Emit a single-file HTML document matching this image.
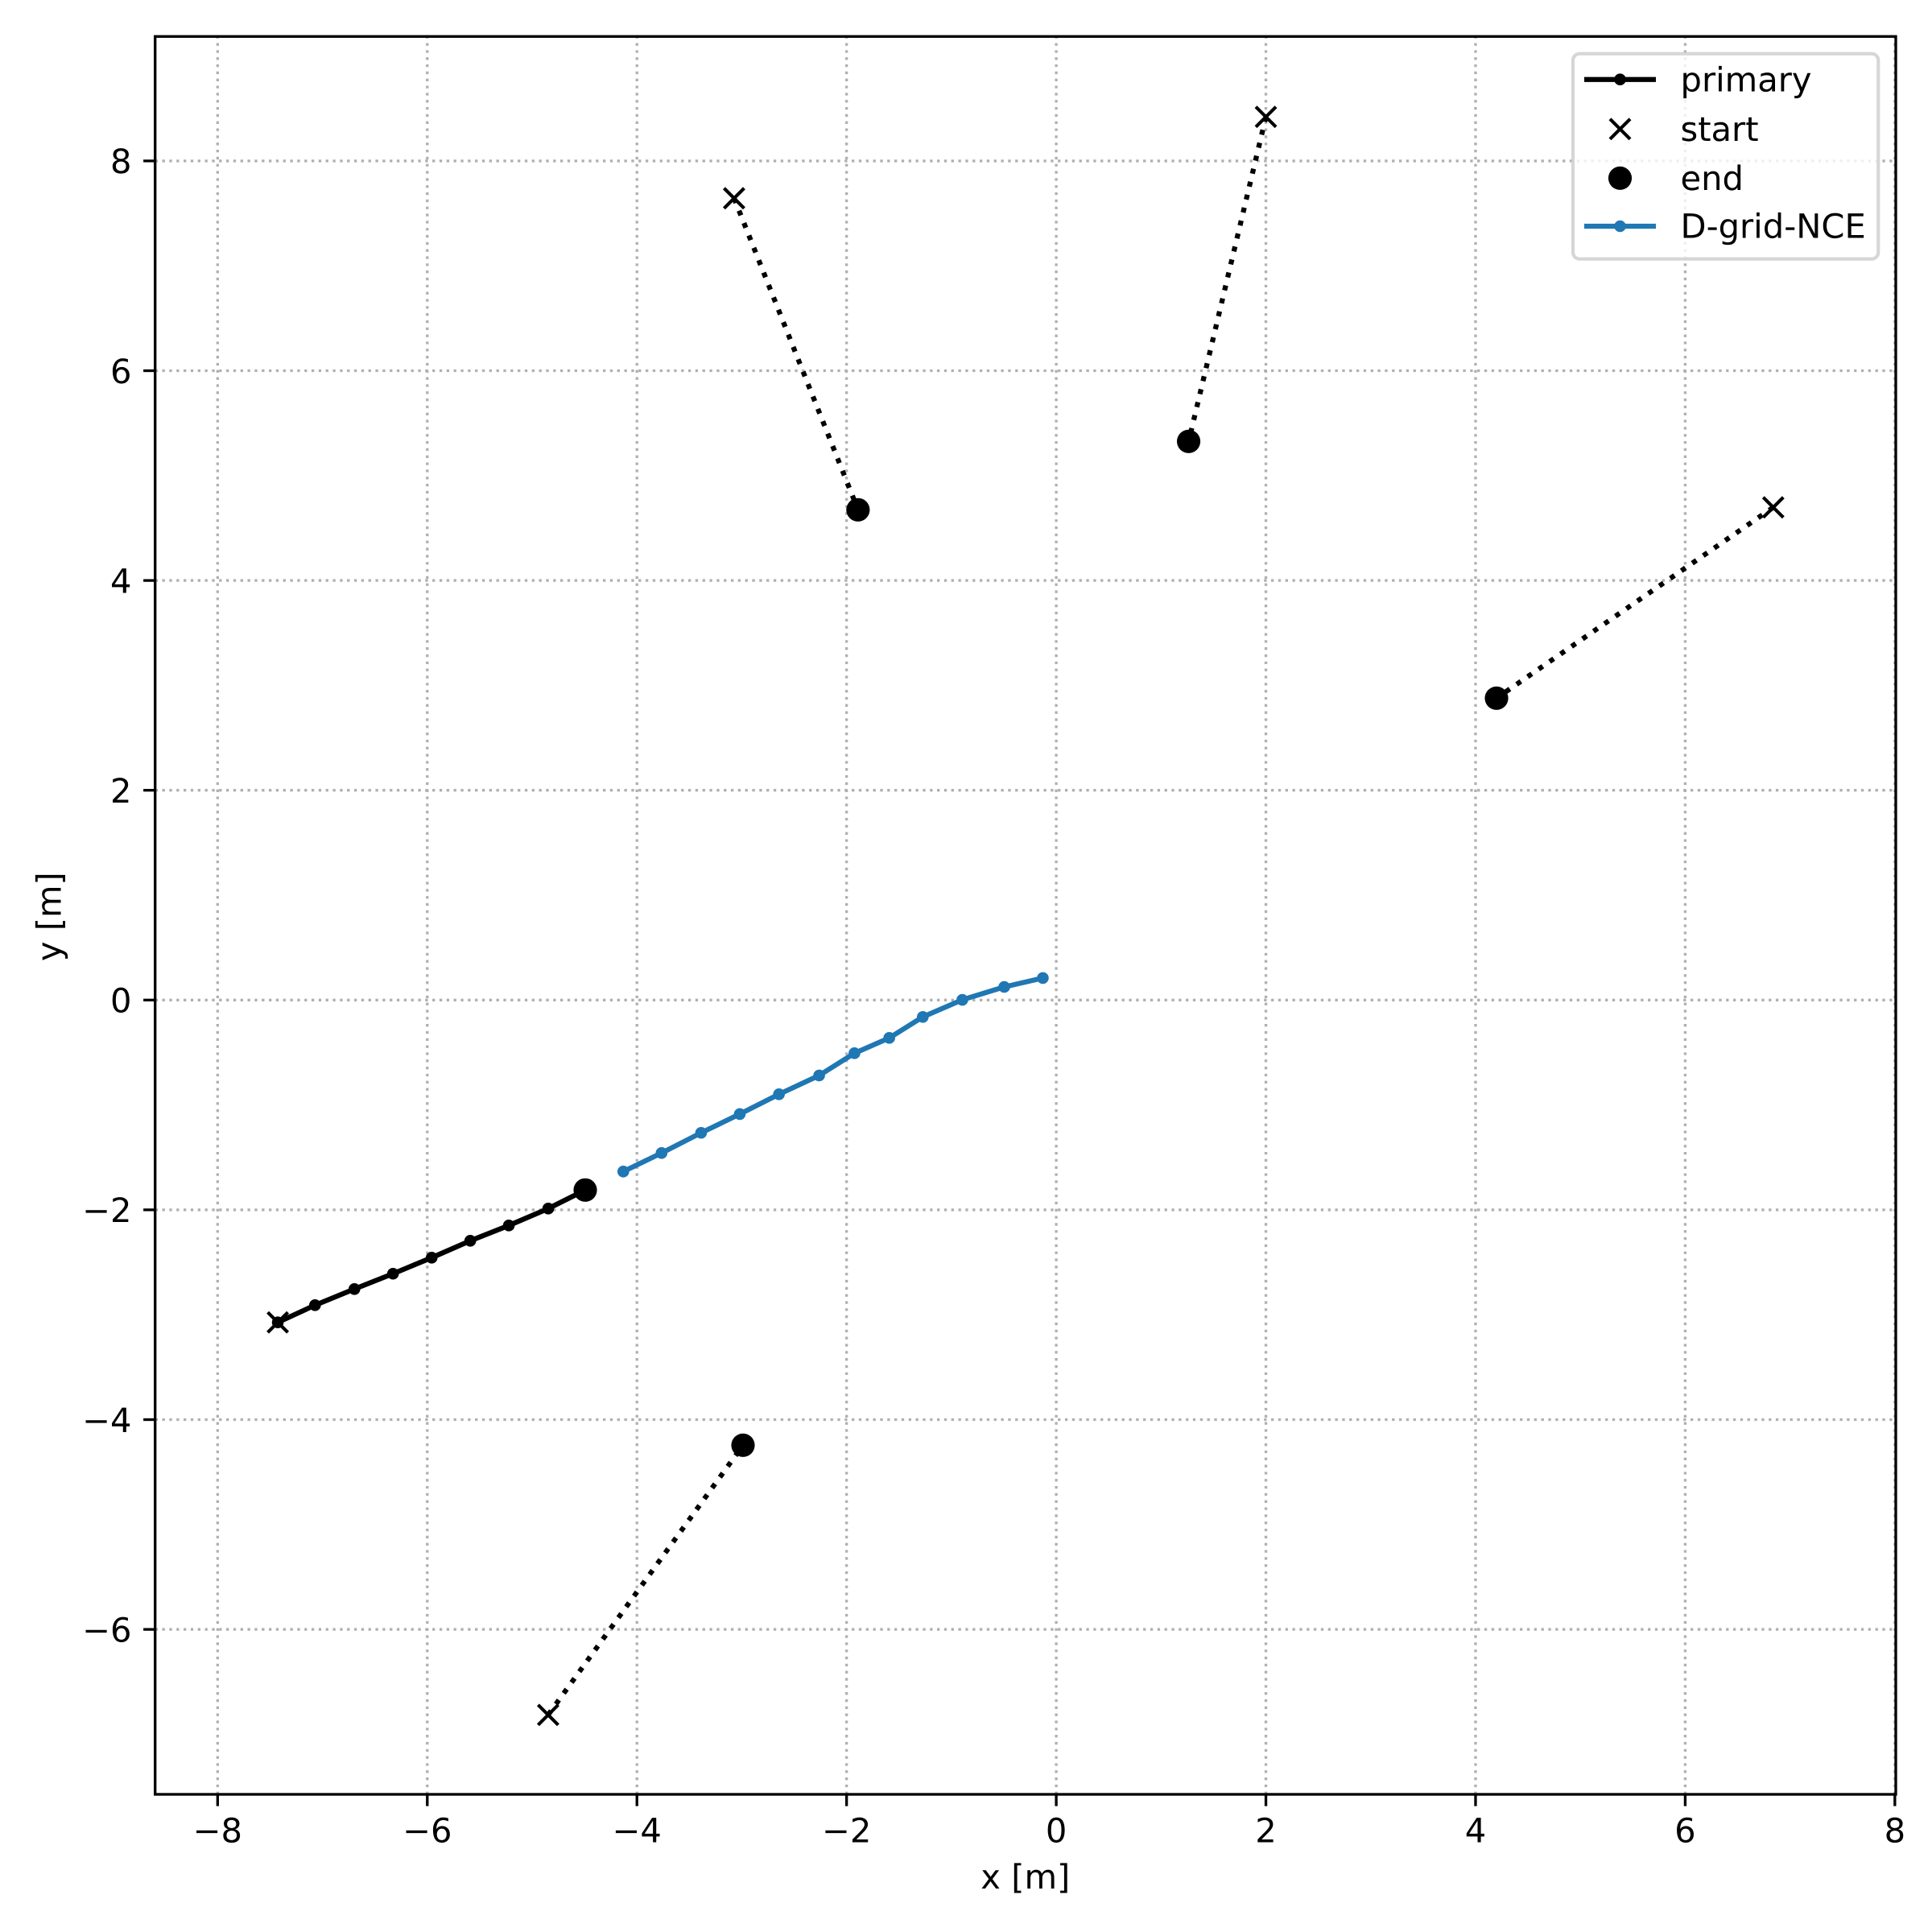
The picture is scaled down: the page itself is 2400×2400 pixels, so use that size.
<!DOCTYPE html>
<html>
<head>
<meta charset="utf-8">
<title>Trajectory plot</title>
<style>
html,body{margin:0;padding:0;background:#fff;}
svg{display:block;}
text{font-family:"DejaVu Sans","Liberation Sans",sans-serif;font-size:41.67px;fill:#000;text-rendering:geometricPrecision;}
</style>
</head>
<body>
<svg id="chart" xmlns="http://www.w3.org/2000/svg" width="2400" height="2400" viewBox="0 0 2400 2400">
  <rect x="0" y="0" width="2400" height="2400" fill="#ffffff"/>
  <g id="grid"></g>
  <g id="series"></g>
  <g id="spines">
    <rect x="192.7" y="45.3" width="2162.3" height="2183.7" fill="none" stroke="#000" stroke-width="3.33" stroke-linejoin="miter"/>
  </g>
  <g id="ticks"></g>
  <text x="1273.8" y="2346" text-anchor="middle">x [m]</text>
  <text x="0" y="0" text-anchor="middle" transform="translate(75.5 1138.7) rotate(-90)">y [m]</text>
  <g id="legend">
    <rect x="1954" y="66.7" width="379.3" height="255" rx="8.3" ry="8.3" fill="#ffffff" fill-opacity="0.8" stroke="#cccccc" stroke-opacity="0.8" stroke-width="4.17"/>
    <g>
      <line x1="1968" y1="98.7" x2="2057" y2="98.7" stroke="#000" stroke-width="6.25"/>
      <circle cx="2012.5" cy="98.7" r="7.3" fill="#000"/>
      <text x="2087.5" y="113.3">primary</text>
    </g>
    <g>
      <path d="M2000 147.8L2025 172.8M2000 172.8L2025 147.8" stroke="#000" stroke-width="4.17" fill="none"/>
      <text x="2087.5" y="175">start</text>
    </g>
    <g>
      <circle cx="2012.5" cy="221.3" r="14.58" fill="#000"/>
      <text x="2087.5" y="236">end</text>
    </g>
    <g>
      <line x1="1968" y1="281" x2="2057" y2="281" stroke="#1f77b4" stroke-width="6.25"/>
      <circle cx="2012.5" cy="281" r="7.3" fill="#1f77b4"/>
      <text x="2087.5" y="295.7">D-grid-NCE</text>
    </g>
  </g>
</svg>
<script>
const xTickValues = [-8, -6, -4, -2, 0, 2, 4, 6, 8];
const yTickValues = [-6, -4, -2, 0, 2, 4, 6, 8];

const primaryX = [-7.426, -7.071, -6.695, -6.327, -5.958, -5.590, -5.222, -4.846, -4.493];
const primaryY = [-3.073, -2.909, -2.755, -2.609, -2.456, -2.295, -2.149, -1.988, -1.811];

const dGridX = [-4.130, -3.765, -3.388, -3.019, -2.645, -2.262, -1.925, -1.593, -1.273, -0.896, -0.496, -0.128];
const dGridY = [-1.635, -1.458, -1.266, -1.087, -0.898, -0.719, -0.507, -0.361, -0.161, 0.002, 0.125, 0.210];

const neighbourAX = [-3.073, -1.891];
const neighbourAY = [7.644, 4.674];
const neighbourBX = [2.000, 1.263];
const neighbourBY = [8.420, 5.326];
const neighbourCX = [6.840, 4.200];
const neighbourCY = [4.697, 2.878];
const neighbourDX = [-4.847, -2.988];
const neighbourDY = [-6.815, -4.244];

const NS = 'http://www.w3.org/2000/svg';
const PLOT_LEFT = 192.7, PLOT_RIGHT = 2355, PLOT_TOP = 45.3, PLOT_BOTTOM = 2229;
const sx = v => 1312.1 + v * 130.22;
const sy = v => 1242.3 - v * 130.3;
const minusText = v => (v < 0 ? '\u2212' + Math.abs(v) : String(v));

const gridG = document.getElementById('grid');
const seriesG = document.getElementById('series');
const ticksG = document.getElementById('ticks');

function node(tag, parent, attrs) {
  const el = document.createElementNS(NS, tag);
  for (const k in attrs) el.setAttribute(k, attrs[k]);
  parent.appendChild(el);
  return el;
}

const gridAttrs = {stroke: '#b0b0b0', 'stroke-width': 3.33, 'stroke-dasharray': '3.33 5.5', fill: 'none'};
xTickValues.forEach(v => {
  const gl = node('line', gridG, Object.assign({x1: sx(v), y1: PLOT_BOTTOM, x2: sx(v), y2: PLOT_TOP}, gridAttrs));
  
  
  const tk = node('line', ticksG, {x1: sx(v), y1: PLOT_BOTTOM, x2: sx(v), y2: PLOT_BOTTOM + 14.6, stroke: '#000', 'stroke-width': 3.33});
  
  
  const lb = node('text', ticksG, {x: sx(v), y: 2288.7, 'text-anchor': 'middle'});
  lb.textContent = minusText(v);
  
  
});
yTickValues.forEach(v => {
  const gl = node('line', gridG, Object.assign({x1: PLOT_LEFT, y1: sy(v), x2: PLOT_RIGHT, y2: sy(v)}, gridAttrs));
  
  
  const tk = node('line', ticksG, {x1: PLOT_LEFT - 14.6, y1: sy(v), x2: PLOT_LEFT, y2: sy(v), stroke: '#000', 'stroke-width': 3.33});
  
  
  const lb = node('text', ticksG, {x: 163.5, y: sy(v) + 15.3, 'text-anchor': 'end'});
  lb.textContent = minusText(v);
  
  
});

function pathFor(xs, ys) {
  return xs.map((x, i) => (i ? 'L' : 'M') + sx(x).toFixed(2) + ' ' + sy(ys[i]).toFixed(2)).join('');
}
function drawStart(x, y) {
  const cx = sx(x), cy = sy(y), h = 12.5;
  const m = node('path', seriesG, {d: `M${cx - h} ${cy - h}L${cx + h} ${cy + h}M${cx - h} ${cy + h}L${cx + h} ${cy - h}`, stroke: '#000', 'stroke-width': 4.17, fill: 'none'});
  
  
}
function drawEnd(x, y) {
  const m = node('circle', seriesG, {cx: sx(x), cy: sy(y), r: 14.58, fill: '#000'});
  
  
}
function drawNeighbour(xs, ys) {
  const p = node('path', seriesG, {d: pathFor(xs, ys), fill: 'none', stroke: '#000', 'stroke-width': 6.25, 'stroke-dasharray': '6.25 10.31'});
  
  
  drawStart(xs[0], ys[0]);
  drawEnd(xs[xs.length - 1], ys[ys.length - 1]);
}
function drawSolid(xs, ys, color, name) {
  const p = node('path', seriesG, {d: pathFor(xs, ys), fill: 'none', stroke: color, 'stroke-width': 6.25, 'stroke-linejoin': 'round', 'stroke-linecap': 'butt'});
  
  
  xs.forEach((x, i) => {
    const c = node('circle', seriesG, {cx: sx(x), cy: sy(ys[i]), r: 7.3, fill: color});
    
    
  });
}

drawSolid(primaryX.slice(0, -1), primaryY.slice(0, -1), '#000000', 'primary');
const primaryTail = node('path', seriesG, {d: pathFor(primaryX.slice(-2), primaryY.slice(-2)), fill: 'none', stroke: '#000', 'stroke-width': 6.25});


drawStart(primaryX[0], primaryY[0]);
drawEnd(primaryX[primaryX.length - 1], primaryY[primaryY.length - 1]);

drawNeighbour(neighbourAX, neighbourAY);
drawNeighbour(neighbourBX, neighbourBY);
drawNeighbour(neighbourCX, neighbourCY);
drawNeighbour(neighbourDX, neighbourDY);

drawSolid(dGridX, dGridY, '#1f77b4', 'd-grid-nce');
</script>
</body>
</html>
